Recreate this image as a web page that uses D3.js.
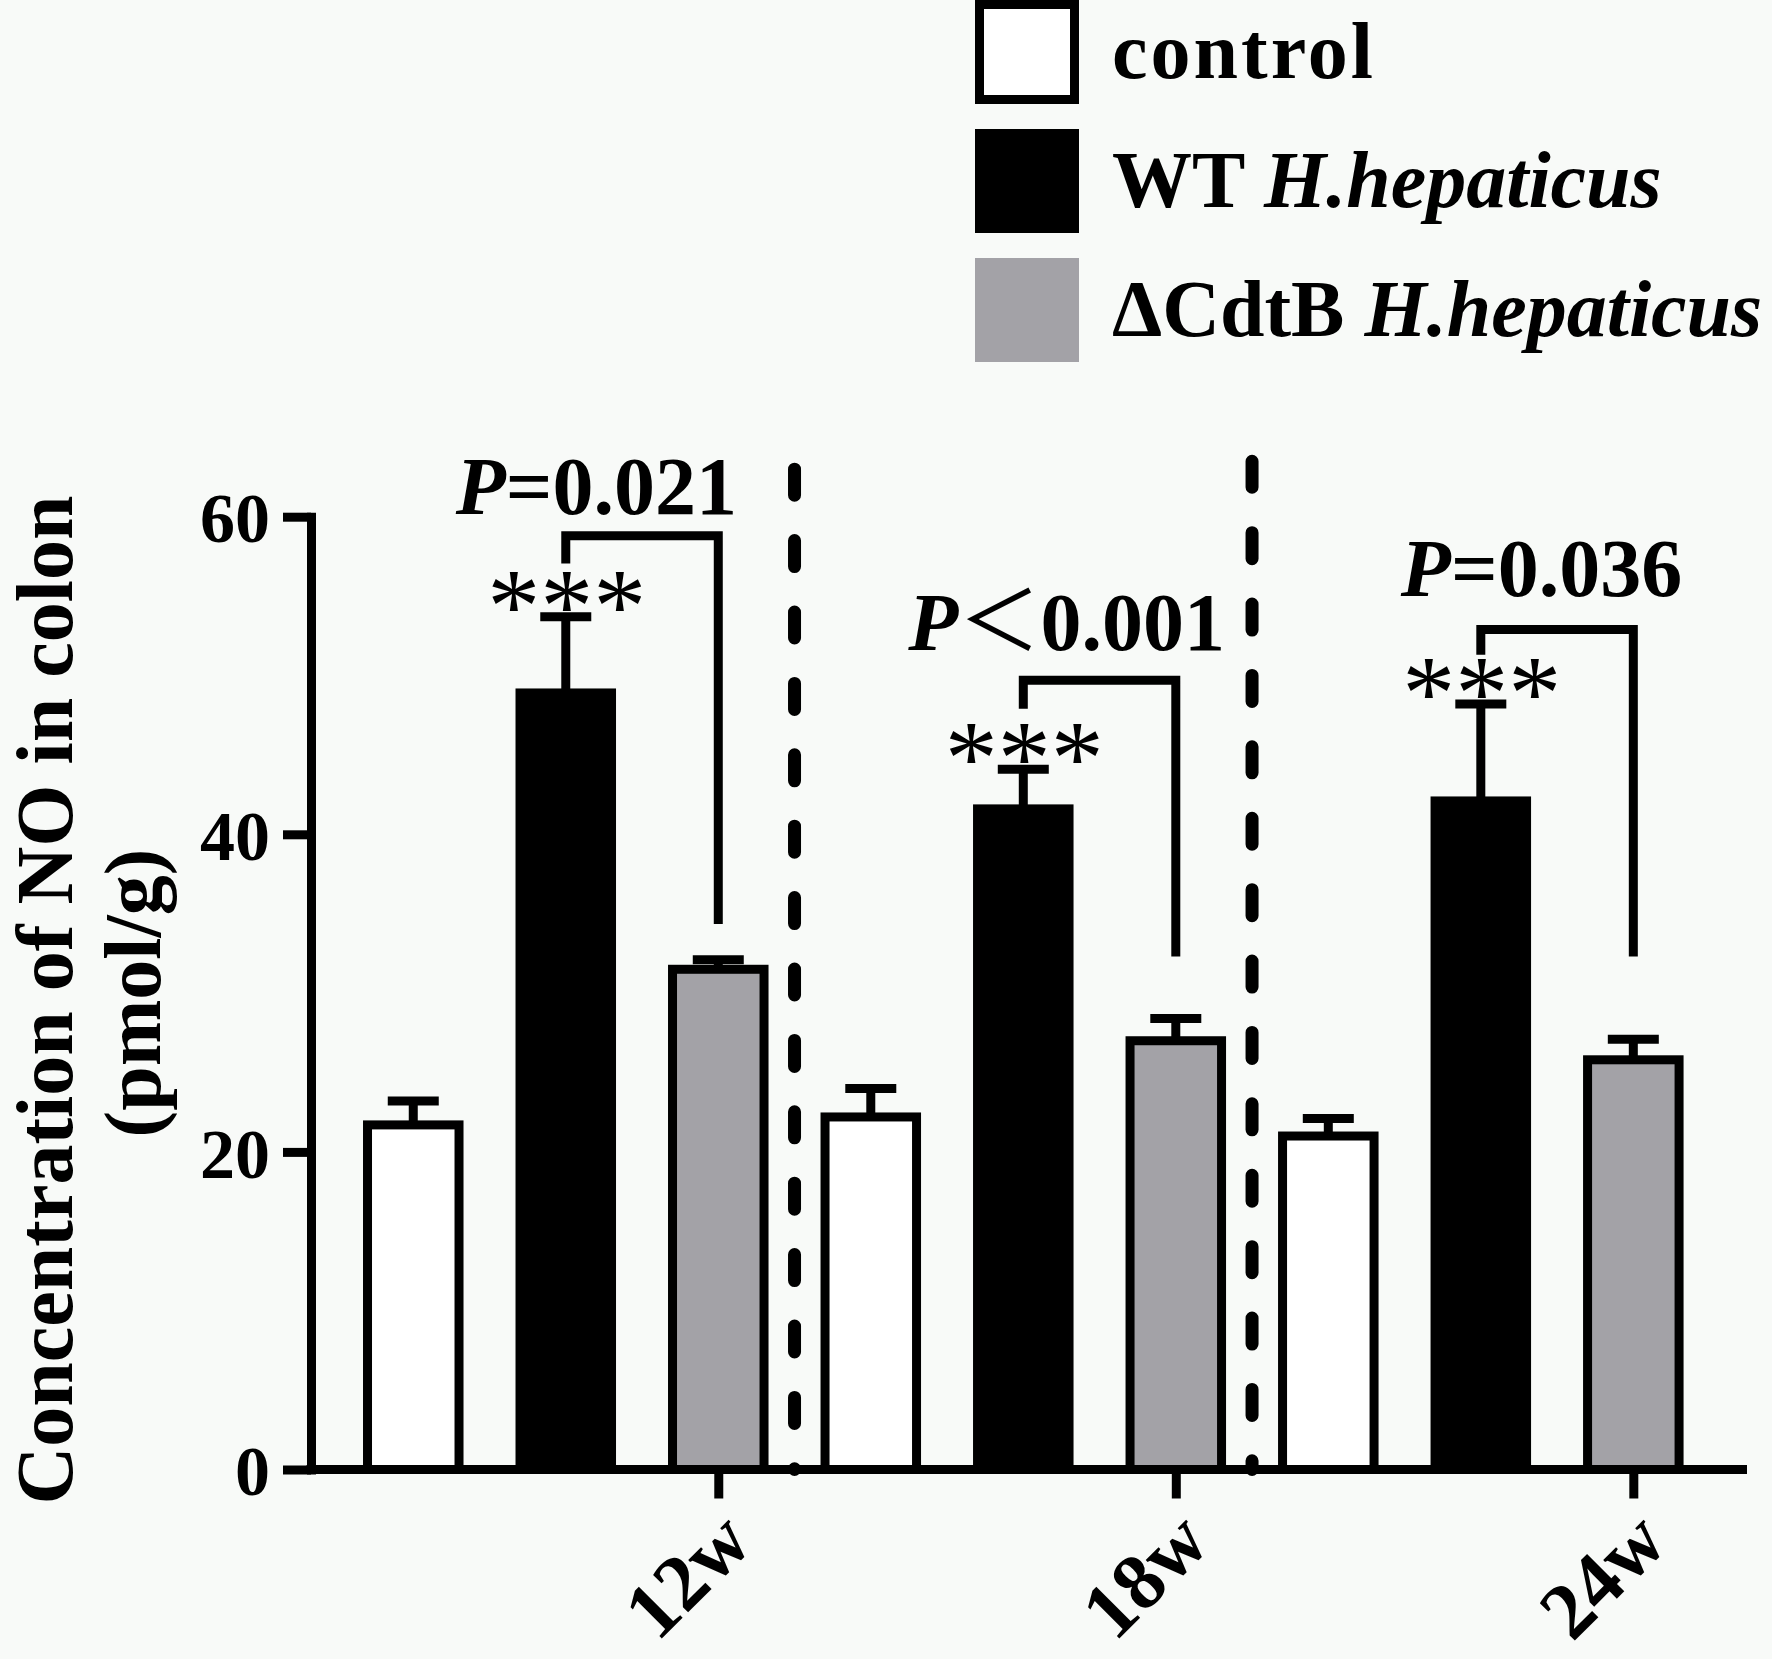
<!DOCTYPE html>
<html>
<head>
<meta charset="utf-8">
<script src="https://cdn.jsdelivr.net/npm/d3@7"></script>
<style>
  html, body { margin: 0; padding: 0; background: #f8faf8; }
  svg { display: block; }
  text { font-family: "Liberation Serif", "Times New Roman", serif; }
</style>
</head>
<body>
<svg id="chart" width="1772" height="1659"></svg>
<script>
// ---------------- data ----------------
const groups = ["12w", "18w", "24w"];
const seriesNames = ["control", "WT", "ΔCdtB"];
const seriesLegendPrefix = ["control", "WT ", "ΔCdtB "];
const seriesLegendItalic = ["", "H.hepaticus", "H.hepaticus"];
const controlMean = [21.7, 22.2, 21.0];
const controlErr  = [1.5, 1.8, 1.1];
const wtMean      = [48.9, 41.6, 42.1];
const wtErr       = [4.8, 2.5, 6.1];
const cdtbMean    = [31.5, 27.0, 25.8];
const cdtbErr     = [0.6, 1.4, 1.3];
const yTicks = [0, 20, 40, 60];
const yTitle1 = "Concentration of NO in colon";
const yTitle2 = "(pmol/g)";
const starLabels = ["***", "***", "***"];
const pOperator = ["=", "＜", "="];
const pValue = ["0.021", "0.001", "0.036"];
// significance brackets (data units)
const bracketTop = [58.8, 49.7, 52.9];
const bracketLeftEnd = [57.05, 47.9, 51.3];
const bracketRightEnd = [34.35, 32.3, 32.3];
const pLabelBaseline = [60.2, 51.6, 55.0];
const dividerTop = [63.4, 63.9];

// ---------------- layout ----------------
const W = 1772, H = 1659;
const fills = ["#ffffff", "#000000", "#a3a2a7"];
const SW = 9; // stroke width
const svg = d3.select("#chart");
svg.append("rect").attr("width", W).attr("height", H).attr("fill", "#f8faf8");

const y = d3.scaleLinear().domain([0, 60]).range([1469.5, 516.7]);

// flat list of bars
const means = [controlMean, wtMean, cdtbMean];
const errs = [controlErr, wtErr, cdtbErr];
const bars = [];
groups.forEach((g, gi) => {
  seriesNames.forEach((s, si) => {
    bars.push({ key: g + "|" + s, group: g, gi, si, mean: means[si][gi], err: errs[si][gi] });
  });
});

const x = d3.scaleBand()
  .domain(bars.map(d => d.key))
  .range([311, 1747])
  .paddingInner(0)
  .paddingOuter(0.208)
  .align(0.41);
const step = x.step();
const barW = step * 0.6;
const cx = k => x(k) + step / 2;

// dashed dividers between groups
const dividers = [];
for (let gi = 0; gi < groups.length - 1; gi++) {
  const a = cx(groups[gi] + "|" + seriesNames[2]);
  const b = cx(groups[gi + 1] + "|" + seriesNames[0]);
  dividers.push({ x: (a + b) / 2, top: dividerTop[gi] });
}
svg.append("g").selectAll("line").data(dividers).join("line")
  .attr("x1", d => d.x).attr("x2", d => d.x)
  .attr("y1", d => y(d.top) + 6.5).attr("y2", y(0))
  .attr("stroke", "#000").attr("stroke-width", 13)
  .attr("stroke-linecap", "round")
  .attr("stroke-dasharray", "26 45.4");

// bars
svg.append("g").selectAll("rect").data(bars).join("rect")
  .attr("x", d => cx(d.key) - barW / 2)
  .attr("y", d => y(d.mean))
  .attr("width", barW)
  .attr("height", d => y(0) - y(d.mean))
  .attr("fill", d => fills[d.si])
  .attr("stroke", "#000")
  .attr("stroke-width", SW);

// error bars (upper only)
const eg = svg.append("g").attr("stroke", "#000").attr("stroke-width", SW);
eg.selectAll("line.v").data(bars).join("line").attr("class", "v")
  .attr("x1", d => cx(d.key)).attr("x2", d => cx(d.key))
  .attr("y1", d => y(d.mean)).attr("y2", d => y(d.mean + d.err));
eg.selectAll("line.c").data(bars).join("line").attr("class", "c")
  .attr("x1", d => cx(d.key) - 25.5).attr("x2", d => cx(d.key) + 25.5)
  .attr("y1", d => y(d.mean + d.err)).attr("y2", d => y(d.mean + d.err));

// y axis
const yAxis = svg.append("g")
  .attr("transform", "translate(311,0)")
  .call(d3.axisLeft(y).tickValues(yTicks).tickSize(28).tickSizeOuter(0).tickPadding(13));
yAxis.select(".domain").attr("stroke-width", SW).attr("stroke-linecap", "square");
yAxis.selectAll(".tick line").attr("stroke-width", SW);
yAxis.selectAll(".tick text")
  .attr("font-family", "Liberation Serif").attr("font-weight", "bold")
  .attr("font-size", 70).attr("fill", "#000").attr("dy", "0.36em");

// x axis
const tickX = groups.map(g => cx(g + "|" + seriesNames[2]));
const xTickScale = d3.scaleOrdinal().domain(groups).range(tickX);
const xAxis = svg.append("g")
  .attr("transform", `translate(0,${y(0)})`)
  .call(d3.axisBottom(xTickScale).tickSize(29).tickSizeOuter(0));
xAxis.select(".domain").remove();
xAxis.insert("line", ":first-child")
  .attr("x1", 306.5).attr("x2", 1747).attr("y1", 0).attr("y2", 0)
  .attr("stroke", "#000").attr("stroke-width", SW);
xAxis.selectAll(".tick line").attr("stroke-width", SW);
xAxis.selectAll(".tick text")
  .attr("x", 0).attr("y", 0).attr("dy", 0)
  .attr("text-anchor", "end")
  .attr("transform", "translate(36,76) rotate(-45)")
  .attr("font-family", "Liberation Serif").attr("font-weight", "bold")
  .attr("font-size", 80).attr("fill", "#000");

// significance brackets
const bg = svg.append("g").attr("fill", "none").attr("stroke", "#000").attr("stroke-width", SW);
groups.forEach((g, gi) => {
  const xl = cx(g + "|" + seriesNames[1]);
  const xr = cx(g + "|" + seriesNames[2]);
  bg.append("path")
    .attr("d", `M${xl},${y(bracketLeftEnd[gi])}V${y(bracketTop[gi])}H${xr}V${y(bracketRightEnd[gi])}`)
    .attr("stroke-linejoin", "miter");
});

// asterisks
svg.append("g").selectAll("text").data(bars.filter(d => d.si === 1)).join("text")
  .attr("x", d => cx(d.key) + 1)
  .attr("y", d => y(d.mean + d.err) + 25)
  .attr("text-anchor", "middle")
  .attr("font-size", 106)
  .attr("fill", "#000")
  .text(d => starLabels[d.gi]);

// P labels
const pOffsets = [-110, -115, -80];
groups.forEach((g, gi) => {
  const xl = cx(g + "|" + seriesNames[1]);
  const t = svg.append("text")
    .attr("x", xl + pOffsets[gi])
    .attr("y", y(pLabelBaseline[gi]))
    .attr("font-size", 82).attr("font-weight", "bold").attr("fill", "#000");
  t.append("tspan").attr("font-style", "italic").text("P");
  if (pOperator[gi] === "＜") {
    t.append("tspan").attr("font-family", "Noto Sans CJK SC").attr("font-weight", "normal").text(pOperator[gi]);
  } else {
    t.append("tspan").text(pOperator[gi]);
  }
  t.append("tspan").text(pValue[gi]);
});

// y title
svg.append("text")
  .attr("transform", "translate(72,1000) rotate(-90)")
  .attr("text-anchor", "middle")
  .attr("font-size", 80).attr("font-weight", "bold").attr("fill", "#000")
  .text(yTitle1);
svg.append("text")
  .attr("transform", "translate(160,993) rotate(-90)")
  .attr("text-anchor", "middle")
  .attr("font-size", 80).attr("font-weight", "bold").attr("fill", "#000")
  .text(yTitle2);

// legend
const legY = d3.scaleLinear().domain([0, 2]).range([52, 310]);
const lg = svg.append("g");
seriesNames.forEach((s, si) => {
  const cy = legY(si);
  if (si === 0) {
    lg.append("rect").attr("x", 975 + SW / 2).attr("y", cy - 52 + SW / 2)
      .attr("width", 104 - SW).attr("height", 104 - SW)
      .attr("fill", fills[si]).attr("stroke", "#000").attr("stroke-width", SW);
  } else {
    lg.append("rect").attr("x", 975).attr("y", cy - 52)
      .attr("width", 104).attr("height", 104).attr("fill", fills[si]);
  }
  const t = lg.append("text").attr("x", 1112).attr("y", cy + 26)
    .attr("font-size", 80).attr("font-weight", "bold").attr("fill", "#000");
  if (si === 0) t.attr("letter-spacing", 3);
  t.append("tspan").text(seriesLegendPrefix[si]);
  if (seriesLegendItalic[si]) t.append("tspan").attr("font-style", "italic").text(seriesLegendItalic[si]);
});
</script>
</body>
</html>
